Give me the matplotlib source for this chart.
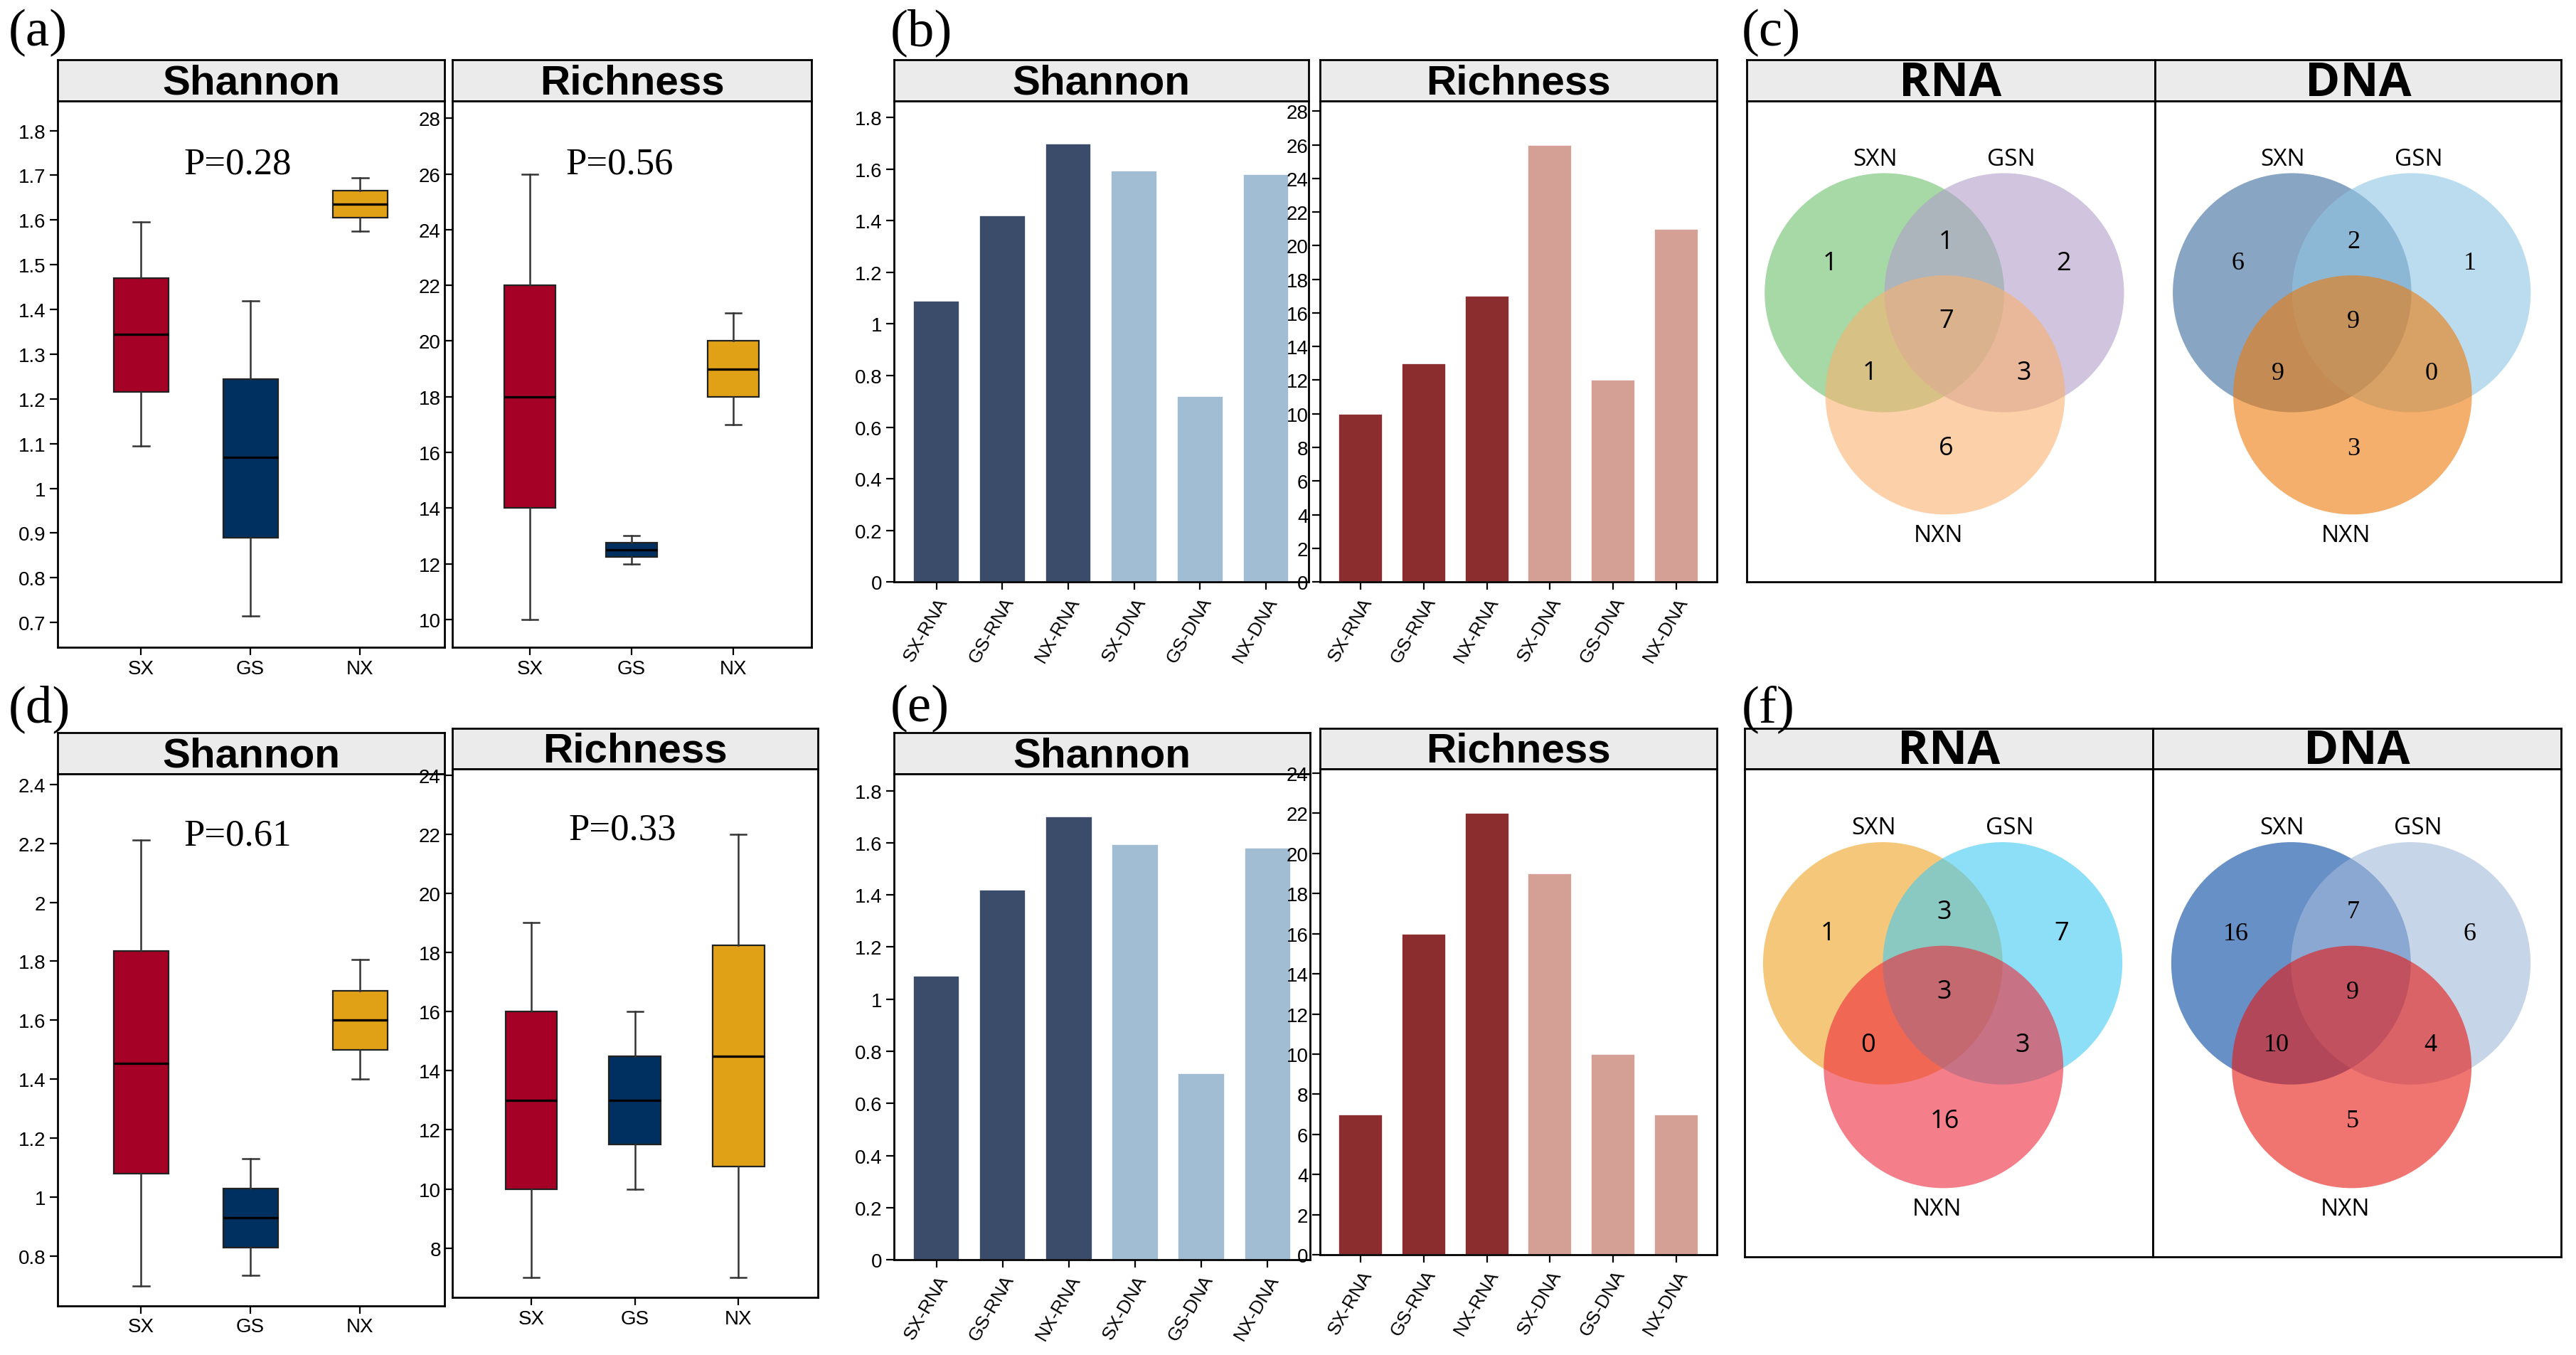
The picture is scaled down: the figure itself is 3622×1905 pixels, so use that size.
import matplotlib
matplotlib.use("Agg")
import matplotlib.pyplot as plt
from matplotlib.patches import Ellipse

# ---------------- data ----------------
groups = ["SX", "GS", "NX"]
box_colors = ["#A50026", "#00305F", "#E0A117"]
# (whislo, q1, med, q3, whishi)
a_shannon = [(1.095, 1.215, 1.345, 1.47, 1.595), (0.715, 0.89, 1.07, 1.245, 1.42), (1.575, 1.605, 1.635, 1.665, 1.695)]
a_richness = [(10, 14, 18, 22, 26), (12, 12.25, 12.5, 12.75, 13), (17, 18, 19, 20, 21)]
d_shannon = [(0.70, 1.08, 1.455, 1.835, 2.21), (0.735, 0.83, 0.93, 1.03, 1.13), (1.40, 1.50, 1.60, 1.70, 1.805)]
d_richness = [(7, 10, 13, 16, 19), (10, 11.5, 13, 14.5, 16), (7, 10.75, 14.5, 18.25, 22)]
a_p = ["P=0.28", "P=0.56"]
d_p = ["P=0.61", "P=0.33"]

bar_labels = ["SX-RNA", "GS-RNA", "NX-RNA", "SX-DNA", "GS-DNA", "NX-DNA"]
b_shannon = [1.09, 1.42, 1.70, 1.595, 0.72, 1.58]
b_richness = [10, 13, 17, 26, 12, 21]
e_shannon = [1.09, 1.42, 1.70, 1.595, 0.715, 1.58]
e_richness = [7, 16, 22, 19, 10, 7]
shannon_bar_colors = ["#3B4B6A"] * 3 + ["#A0BDD3"] * 3
richness_bar_colors = ["#8B2C2E"] * 3 + ["#D4A096"] * 3

venn_sets = ["SXN", "GSN", "NXN"]
# order: S only, S&G, G only, center, S&N, G&N, N only
c_rna = [1, 1, 2, 7, 1, 3, 6]
c_dna = [6, 2, 1, 9, 9, 0, 3]
f_rna = [1, 3, 7, 3, 0, 3, 16]
f_dna = [16, 7, 6, 9, 10, 4, 5]
c_rna_colors = ["#6BC06B", "#B19DCB", "#FAB16E"]
c_dna_colors = ["#39699D", "#8FC5E3", "#ED7A0A"]
f_rna_colors = ["#EFA322", "#41CBF3", "#EE293A"]
f_dna_colors = ["#0246A2", "#A3B9D9", "#E61711"]

# ---------------- layout ----------------
W, H = 3622, 1906
fig = plt.figure(figsize=(W / 200, H / 200), dpi=200)
SW, SH = 1565.0, 826.0

HEAD = dict(family="Liberation Sans", weight="bold", size=21)
TICK = dict(family="Liberation Sans", size=10)
XTICK_ROT = dict(family="Liberation Sans", size=9.5)


def rect(x0, x1, y0, y1):
    return [x0 / SW, 1 - y1 / SH, (x1 - x0) / SW, (y1 - y0) / SH]


def panel(x0, x1, ht, hb, yb, title, font=HEAD):
    hax = fig.add_axes(rect(x0, x1, ht, hb))
    hax.set_facecolor("#EBEBEB")
    hax.set_xticks([]); hax.set_yticks([])
    for s in hax.spines.values():
        s.set_linewidth(1.0)
    hax.text(0.5, 0.45, title, ha="center", va="center", transform=hax.transAxes, **font)
    ax = fig.add_axes(rect(x0, x1, hb, yb))
    for s in ax.spines.values():
        s.set_linewidth(1.0)
    return ax


def fmt(v):
    s = ("%.1f" % v)
    return s[:-2] if s.endswith(".0") else s


def box_panel(ax, stats, ylim, ticks, ptext):
    bs = [dict(whislo=s[0], q1=s[1], med=s[2], q3=s[3], whishi=s[4], fliers=[]) for s in stats]
    art = ax.bxp(bs, positions=[1, 2, 3], widths=0.5, patch_artist=True, showfliers=False,
                 capwidths=0.15,
                 medianprops=dict(color="black", linewidth=1.2),
                 whiskerprops=dict(color="#333333", linewidth=0.9),
                 capprops=dict(color="#333333", linewidth=0.9),
                 boxprops=dict(linewidth=0.8))
    for p, c in zip(art["boxes"], box_colors):
        p.set_facecolor(c); p.set_edgecolor("#222222")
    ax.set_xlim(0.24, 3.77)
    ax.set_ylim(*ylim)
    ax.set_yticks(ticks)
    ax.set_yticklabels([fmt(t) for t in ticks], **TICK)
    ax.set_xticks([1, 2, 3])
    ax.set_xticklabels(groups, **TICK)
    ax.tick_params(length=4, width=0.8, pad=2)
    ax.text(0.465, 0.885, ptext, transform=ax.transAxes, ha="center", va="center",
            family="Liberation Serif", size=19)


def bar_panel(ax, vals, colors, ylim, ticks):
    x = list(range(len(vals)))
    ax.bar(x, vals, width=0.70, color=colors, edgecolor="white", linewidth=0.6)
    ax.set_xlim(-0.646, 5.646)
    ax.set_ylim(*ylim)
    ax.set_yticks(ticks)
    ax.set_yticklabels([fmt(t) for t in ticks], **TICK)
    ax.set_xticks(x)
    ax.set_xticklabels(bar_labels, rotation=60, ha="right", rotation_mode="anchor", **XTICK_ROT)
    ax.tick_params(length=4, width=0.8, pad=2)


def venn_panel(ax, counts, colors, numfont):
    ax.set_xlim(0, 760); ax.set_ylim(1247, 0)
    ax.set_xticks([]); ax.set_yticks([])
    centers = [(257, 497), (480, 497), (370, 762)]
    for (cx, cy), c in zip(centers, colors):
        ax.add_patch(Ellipse((cx, cy), 446, 620, facecolor=c, alpha=0.6, edgecolor="none"))
    lab = [(240, 150), (493, 150), (358, 1125)]
    for (lx, ly), t in zip(lab, venn_sets):
        ax.text(lx, ly, t, ha="center", va="center", family="Open Sans", size=12)
    pos = [(155, 420), (372, 365), (590, 420), (372, 570), (230, 705), (517, 705), (372, 900)]
    for (px, py), n in zip(pos, counts):
        ax.text(px, py, str(n), ha="center", va="center", size=13, **numfont)


VHEAD = dict(family="Open Sans", weight="bold", size=24)
SANSNUM = dict(family="Open Sans")
SERIFNUM = dict(family="Liberation Serif")

# row 1
ax = panel(35, 270, 37, 62, 395, "Shannon")
box_panel(ax, a_shannon, (0.644, 1.866), [0.7 + 0.1 * i for i in range(12)], a_p[0])
ax = panel(275, 493, 37, 62, 395, "Richness")
box_panel(ax, a_richness, (8.99, 28.62), list(range(10, 29, 2)), a_p[1])

ax = panel(543, 795, 37, 62, 355, "Shannon")
bar_panel(ax, b_shannon, shannon_bar_colors, (0, 1.864), [0.2 * i for i in range(10)])
ax = panel(802, 1043, 37, 62, 355, "Richness")
bar_panel(ax, b_richness, richness_bar_colors, (0, 28.6), list(range(0, 29, 2)))

ax = panel(1061, 1309, 37, 62, 355, "RNA", VHEAD)
venn_panel(ax, c_rna, c_rna_colors, SANSNUM)
ax = panel(1309, 1556, 37, 62, 355, "DNA", VHEAD)
venn_panel(ax, c_dna, c_dna_colors, SERIFNUM)

# row 2
ax = panel(35, 270, 447, 472, 796, "Shannon")
box_panel(ax, d_shannon, (0.632, 2.435), [0.8 + 0.2 * i for i in range(9)], d_p[0])
ax = panel(275, 497, 444, 469, 791, "Richness")
box_panel(ax, d_richness, (6.33, 24.2), list(range(8, 25, 2)), d_p[1])

ax = panel(543, 796, 447, 472, 768, "Shannon")
bar_panel(ax, e_shannon, shannon_bar_colors, (0, 1.864), [0.2 * i for i in range(10)])
ax = panel(802, 1043, 444, 469, 765, "Richness")
bar_panel(ax, e_richness, richness_bar_colors, (0, 24.2), list(range(0, 25, 2)))

ax = panel(1060, 1308, 444, 469, 766, "RNA", VHEAD)
venn_panel(ax, f_rna, f_rna_colors, SANSNUM)
ax = panel(1308, 1556, 444, 469, 766, "DNA", VHEAD)
venn_panel(ax, f_dna, f_dna_colors, SERIFNUM)

# panel letters
for lbl, x, y in [("(a)", 5, 20), ("(b)", 541, 20), ("(c)", 1058, 20),
                  ("(d)", 5, 432), ("(e)", 541, 432), ("(f)", 1058, 432)]:
    fig.text(x / SW, 1 - y / SH, lbl, ha="left", va="center",
             family="Liberation Serif", size=27)

fig.savefig("out.png", dpi=200)
